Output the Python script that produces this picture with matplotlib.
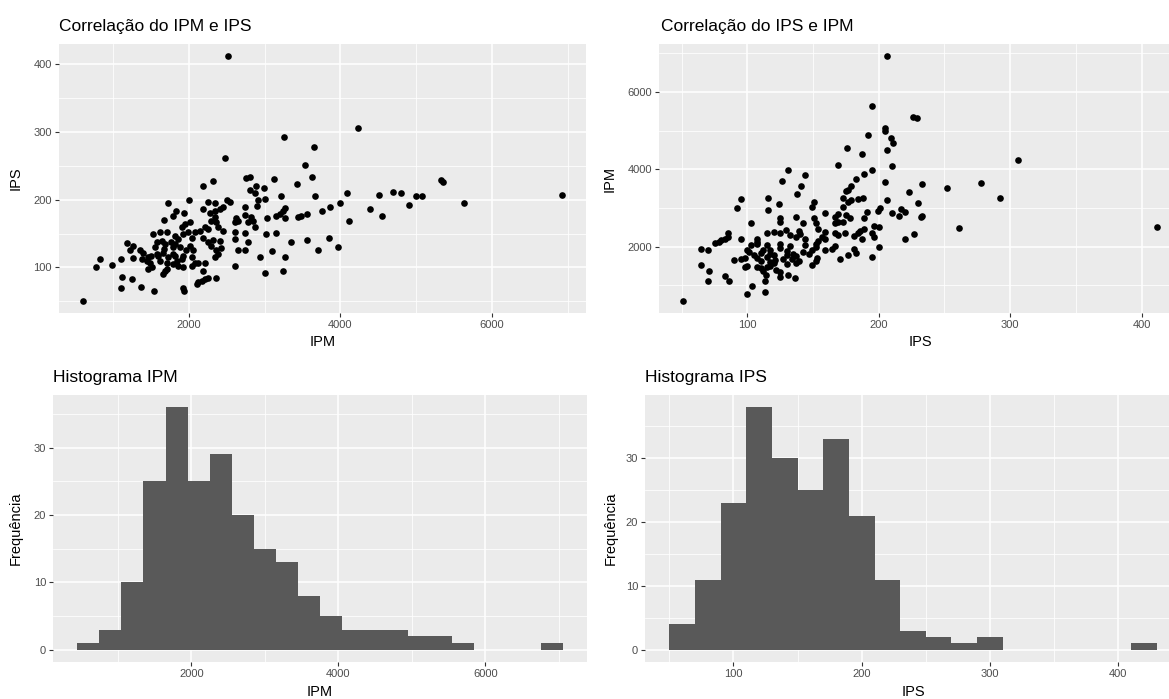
import matplotlib
matplotlib.use("Agg")
import matplotlib.pyplot as plt
from matplotlib.ticker import FixedLocator

plt.rcParams['font.family'] = ['Liberation Sans', 'DejaVu Sans']

# ---------------- data ----------------
ipm = [601, 772, 829, 983, 1105, 1122, 1101, 1246, 1368, 1539,
       1180, 1224, 1268, 1268, 1355, 1399, 1377,
       1464, 1487, 1464, 1509,
       1522, 1619, 1715,
       1575, 1641, 1685, 1553,
       1597, 1663, 1728, 1619, 1707,
       1685, 1707,
       1816, 1860, 1816, 1882,
       1794, 1838, 1926, 1961,
       1794, 1860,
       1728, 2000,
       1829, 1934, 1794, 1671,
       1947, 2013, 1904,
       1991, 2035, 2079,
       2013, 2057, 2035,
       2035, 2079,
       2101, 1926, 1934,
       1443, 1496, 1575, 1676, 1654, 1759, 1785, 1926, 1816, 1904, 1926,
       3255, 3658, 2474, 3527, 3623, 3123, 2759, 2803, 3425, 2320, 2189,
       2891, 2987, 2803, 2868, 3211, 3667, 4088, 3996, 3869, 3760,
       2504, 2539, 2254, 2342, 3000, 2912, 2904, 2737, 2189,
       2276, 2342, 2408, 2452,
       3263, 3241, 3197, 3154,
       3437, 3474, 3562, 3272, 3035,
       2825, 2781, 2847,
       2627, 2605, 2649, 2737,
       2342, 2298, 2364, 2386,
       2452, 2408, 2430,
       2868, 2737, 2605, 2605,
       3022, 3145, 3351, 3562, 3855, 3974, 3711,
       2781, 2649, 2737,
       3097, 2943, 3272,
       2605, 3000, 3241,
       2145, 2211, 2254, 2189, 2254, 2298, 2320, 2364, 2386, 2342,
       2364, 2123, 2167, 2211, 2254,
       2189, 2123, 2211,
       4237, 4119, 4395, 4504, 4548, 4689, 4799, 4900, 5005, 5083,
       5325, 5360, 5632, 6927,
       2522]

ips = [50.7, 100, 113, 103.5, 113, 86, 70, 83, 71, 64.5,
       136, 125, 131, 114, 125, 122, 112,
       115, 107, 98, 100,
       149, 152, 153,
       137, 139.5, 134, 130,
       117, 121, 115, 110, 107,
       95, 98,
       147, 142, 135, 130,
       120, 110, 117, 125,
       105, 101.5,
       195, 200,
       183, 181, 176.5, 170.5,
       164, 167, 159,
       152, 144, 152,
       132, 125, 115,
       102.5, 107,
       75, 70, 64.5,
       110, 117, 120, 127, 90, 137, 130, 149, 117, 112, 100,
       292, 277.6, 261, 251.6, 233, 230, 232, 233, 223, 227, 220,
       220, 217, 215, 210, 206, 205, 210, 194.7, 189, 183,
       200, 196, 196, 195, 201, 199, 191, 189, 187,
       181, 184, 186, 189,
       188, 184, 179, 176.5,
       175, 176.5, 179, 173, 173,
       175, 167, 169,
       173, 167, 169, 178,
       174, 169, 167, 159,
       154, 139.5, 129,
       159, 151, 152, 142,
       149, 151, 138, 140.5, 144, 130.6, 126,
       137, 125, 125,
       124, 116, 116,
       102.5, 92, 95,
       154, 159, 157, 144, 137, 132, 140, 125, 120, 115,
       85, 78, 80, 83, 85,
       95, 107, 107,
       306, 169, 187, 206.5, 176, 211, 209.5, 192, 205, 205,
       229, 226, 195, 206.5,
       412]

ipm_hist_start = 450
ipm_binwidth = 300
ipm_counts = [1, 3, 10, 25, 36, 25, 29, 20, 15, 13, 8, 5, 3, 3, 3, 2, 2, 1, 0, 0, 0, 1]

ips_hist_start = 50
ips_binwidth = 20
ips_counts = [4, 11, 23, 38, 30, 25, 33, 21, 11, 3, 2, 1, 2, 0, 0, 0, 0, 0, 1]

ipm_ticks = [2000, 4000, 6000]
ipm_minor = [1000, 3000, 5000, 7000]
ips_ticks = [100, 200, 300, 400]
ips_minor = [50, 150, 250, 350]
freq_ticks = [0, 10, 20, 30]
freq_minor = [5, 15, 25, 35]

titles = ["Correlação do IPM e IPS", "Correlação do IPS e IPM",
          "Histograma IPM", "Histograma IPS"]

# ---------------- figure ----------------
W, H = 1169, 699
fig = plt.figure(figsize=(W / 100, H / 100), dpi=100)


def add_ax(left, top, right, bottom):
    return fig.add_axes([left / W, 1 - bottom / H, (right - left) / W, (bottom - top) / H])


def expand(lo, hi, f=0.05):
    r = hi - lo
    return lo - f * r, hi + f * r


def style(ax, xt, xm, yt, ym):
    ax.set_facecolor('#EBEBEB')
    for s in ax.spines.values():
        s.set_visible(False)
    ax.xaxis.set_major_locator(FixedLocator(xt))
    ax.xaxis.set_minor_locator(FixedLocator(xm))
    ax.yaxis.set_major_locator(FixedLocator(yt))
    ax.yaxis.set_minor_locator(FixedLocator(ym))
    ax.grid(True, which='major', color='white', linewidth=1.1)
    ax.grid(True, which='minor', color='white', linewidth=0.55)
    ax.set_axisbelow(True)
    ax.tick_params(which='major', length=2.8, width=0.8, color='#333333',
                   labelsize=8, labelcolor='#4D4D4D', pad=2.2)
    ax.tick_params(which='minor', length=0)


ax1 = add_ax(59, 44, 586, 313)
ax2 = add_ax(659, 44, 1181, 313)
ax3 = add_ax(53, 395, 587, 662)
ax4 = add_ax(645, 395, 1181, 662)

# scatter IPM vs IPS
ax1.scatter(ipm, ips, s=23, color='black', linewidths=0, zorder=3)
ax1.set_xlim(*expand(min(ipm), max(ipm)))
ax1.set_ylim(*expand(min(ips), max(ips)))
style(ax1, ipm_ticks, ipm_minor, ips_ticks, ips_minor)

# scatter IPS vs IPM
ax2.scatter(ips, ipm, s=23, color='black', linewidths=0, zorder=3)
ax2.set_xlim(*expand(min(ips), max(ips)))
ax2.set_ylim(*expand(min(ipm), max(ipm)))
style(ax2, ips_ticks, ips_minor, ipm_ticks, ipm_minor)

# histogram IPM
ipm_edges = [ipm_hist_start + i * ipm_binwidth for i in range(len(ipm_counts))]
ax3.bar(ipm_edges, ipm_counts, width=ipm_binwidth, align='edge',
        color='#595959', linewidth=0, zorder=3)
ax3.set_xlim(*expand(ipm_edges[0], ipm_edges[-1] + ipm_binwidth))
ax3.set_ylim(*expand(0, max(ipm_counts)))
style(ax3, ipm_ticks, ipm_minor, freq_ticks, freq_minor)

# histogram IPS
ips_edges = [ips_hist_start + i * ips_binwidth for i in range(len(ips_counts))]
ax4.bar(ips_edges, ips_counts, width=ips_binwidth, align='edge',
        color='#595959', linewidth=0, zorder=3)
ax4.set_xlim(*expand(ips_edges[0], ips_edges[-1] + ips_binwidth))
ax4.set_ylim(*expand(0, max(ips_counts)))
style(ax4, ips_ticks, ips_minor, freq_ticks, freq_minor)

# titles
def ftext(x, y, s, **kw):
    fig.text(x / W, 1 - y / H, s, **kw)

ftext(59, 31, titles[0], fontsize=12.5, va='baseline', ha='left')
ftext(661, 31, titles[1], fontsize=12.5, va='baseline', ha='left')
ftext(53, 382, titles[2], fontsize=12.5, va='baseline', ha='left')
ftext(645, 382, titles[3], fontsize=12.5, va='baseline', ha='left')

# axis labels
ftext((59 + 586) / 2, 342, "IPM", fontsize=10.5, ha='center', va='center')
ftext((659 + 1181) / 2, 342, "IPS", fontsize=10.5, ha='center', va='center')
ftext((53 + 587) / 2, 692, "IPM", fontsize=10.5, ha='center', va='center')
ftext((645 + 1181) / 2, 692, "IPS", fontsize=10.5, ha='center', va='center')
ftext(16, (44 + 313) / 2, "IPS", fontsize=10.5, ha='center', va='center', rotation=90)
ftext(610, (44 + 313) / 2, "IPM", fontsize=10.5, ha='center', va='center', rotation=90)
ftext(16, (395 + 662) / 2, "Frequência", fontsize=10.5, ha='center', va='center', rotation=90)
ftext(611, (395 + 662) / 2, "Frequência", fontsize=10.5, ha='center', va='center', rotation=90)

fig.savefig("out.png", dpi=100)
